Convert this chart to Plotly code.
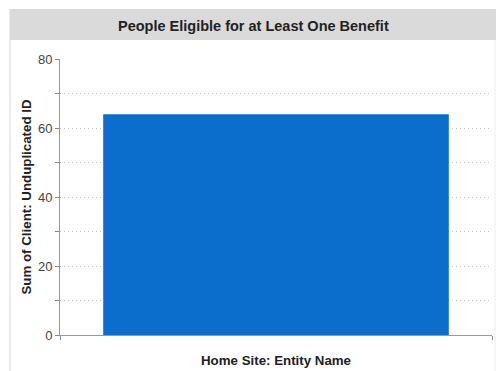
import plotly.graph_objects as go

# Data
sites = ["Home Site"]
client_counts = [64]

title_text = "People Eligible for at Least One Benefit"
x_title = "Home Site: Entity Name"
y_title = "Sum of Client: Unduplicated ID"
y_tick_values = [0, 20, 40, 60, 80]

W, H = 496, 371
L, R, T, B = 60, 4, 59, 36
plot_w = W - L - R
plot_h = H - T - B


def px_to_paper_x(px):
    return (px - L) / plot_w


def px_to_paper_y(py):
    return (H - B - py) / plot_h


fig = go.Figure(
    go.Bar(
        x=sites,
        y=client_counts,
        width=0.8,
        marker=dict(color="#0b6dcc", line=dict(width=0)),
        hoverinfo="y",
    )
)

font = "Liberation Sans, Arial, sans-serif"
grid_dash = "1px,3px"

fig.update_layout(
    width=W,
    height=H,
    margin=dict(l=L, r=R, t=T, b=B),
    paper_bgcolor="white",
    plot_bgcolor="white",
    showlegend=False,
    font=dict(family=font, size=13, color="#444"),
    bargap=0.2,
)

fig.update_xaxes(
    type="category",
    range=[-0.5, 0.5],
    showticklabels=False,
    tickson="boundaries",
    ticks="outside",
    ticklen=4,
    tickcolor="#888",
    showline=True,
    linecolor="#999",
    linewidth=1,
    showgrid=False,
    zeroline=False,
    automargin=False,
    title=dict(text=f"<b>{x_title}</b>", font=dict(family=font, size=13.3, color="#222"), standoff=20),
)

fig.update_yaxes(
    range=[0, 80],
    tickvals=y_tick_values,
    ticks="outside",
    ticklen=4,
    tickcolor="#888",
    showline=True,
    linecolor="#999",
    linewidth=1,
    showgrid=True,
    gridcolor="#c4c4c4",
    griddash=grid_dash,
    gridwidth=1,
    zeroline=False,
    automargin=False,
    minor=dict(
        dtick=10,
        ticks="outside",
        ticklen=4,
        tickcolor="#888",
        showgrid=True,
        gridcolor="#c4c4c4",
        griddash=grid_dash,
    ),
    tickfont=dict(family=font, size=13, color="#444"),
    title=dict(text=f"<b>{y_title}</b>", font=dict(family=font, size=13.3, color="#222"), standoff=3),
)

# Header band with the chart title
fig.add_shape(
    type="rect",
    xref="paper", yref="paper",
    x0=px_to_paper_x(10), x1=px_to_paper_x(W),
    y0=px_to_paper_y(40), y1=px_to_paper_y(9),
    fillcolor="#dadada", line=dict(width=0), layer="below",
)
# Frame edges
fig.add_shape(
    type="line", xref="paper", yref="paper",
    x0=px_to_paper_x(10), x1=px_to_paper_x(10),
    y0=px_to_paper_y(9), y1=px_to_paper_y(H),
    line=dict(color="#d8d8d8", width=1),
)
fig.add_shape(
    type="line", xref="paper", yref="paper",
    x0=px_to_paper_x(495), x1=px_to_paper_x(495),
    y0=px_to_paper_y(40), y1=px_to_paper_y(H),
    line=dict(color="#eeeeee", width=1),
)
fig.add_annotation(
    text=f"<b>{title_text}</b>",
    xref="paper", yref="paper",
    x=px_to_paper_x((10 + W) / 2), y=px_to_paper_y(26),
    xanchor="center", yanchor="middle",
    showarrow=False,
    font=dict(family=font, size=14.5, color="#222"),
)

fig.write_html("out.html")
